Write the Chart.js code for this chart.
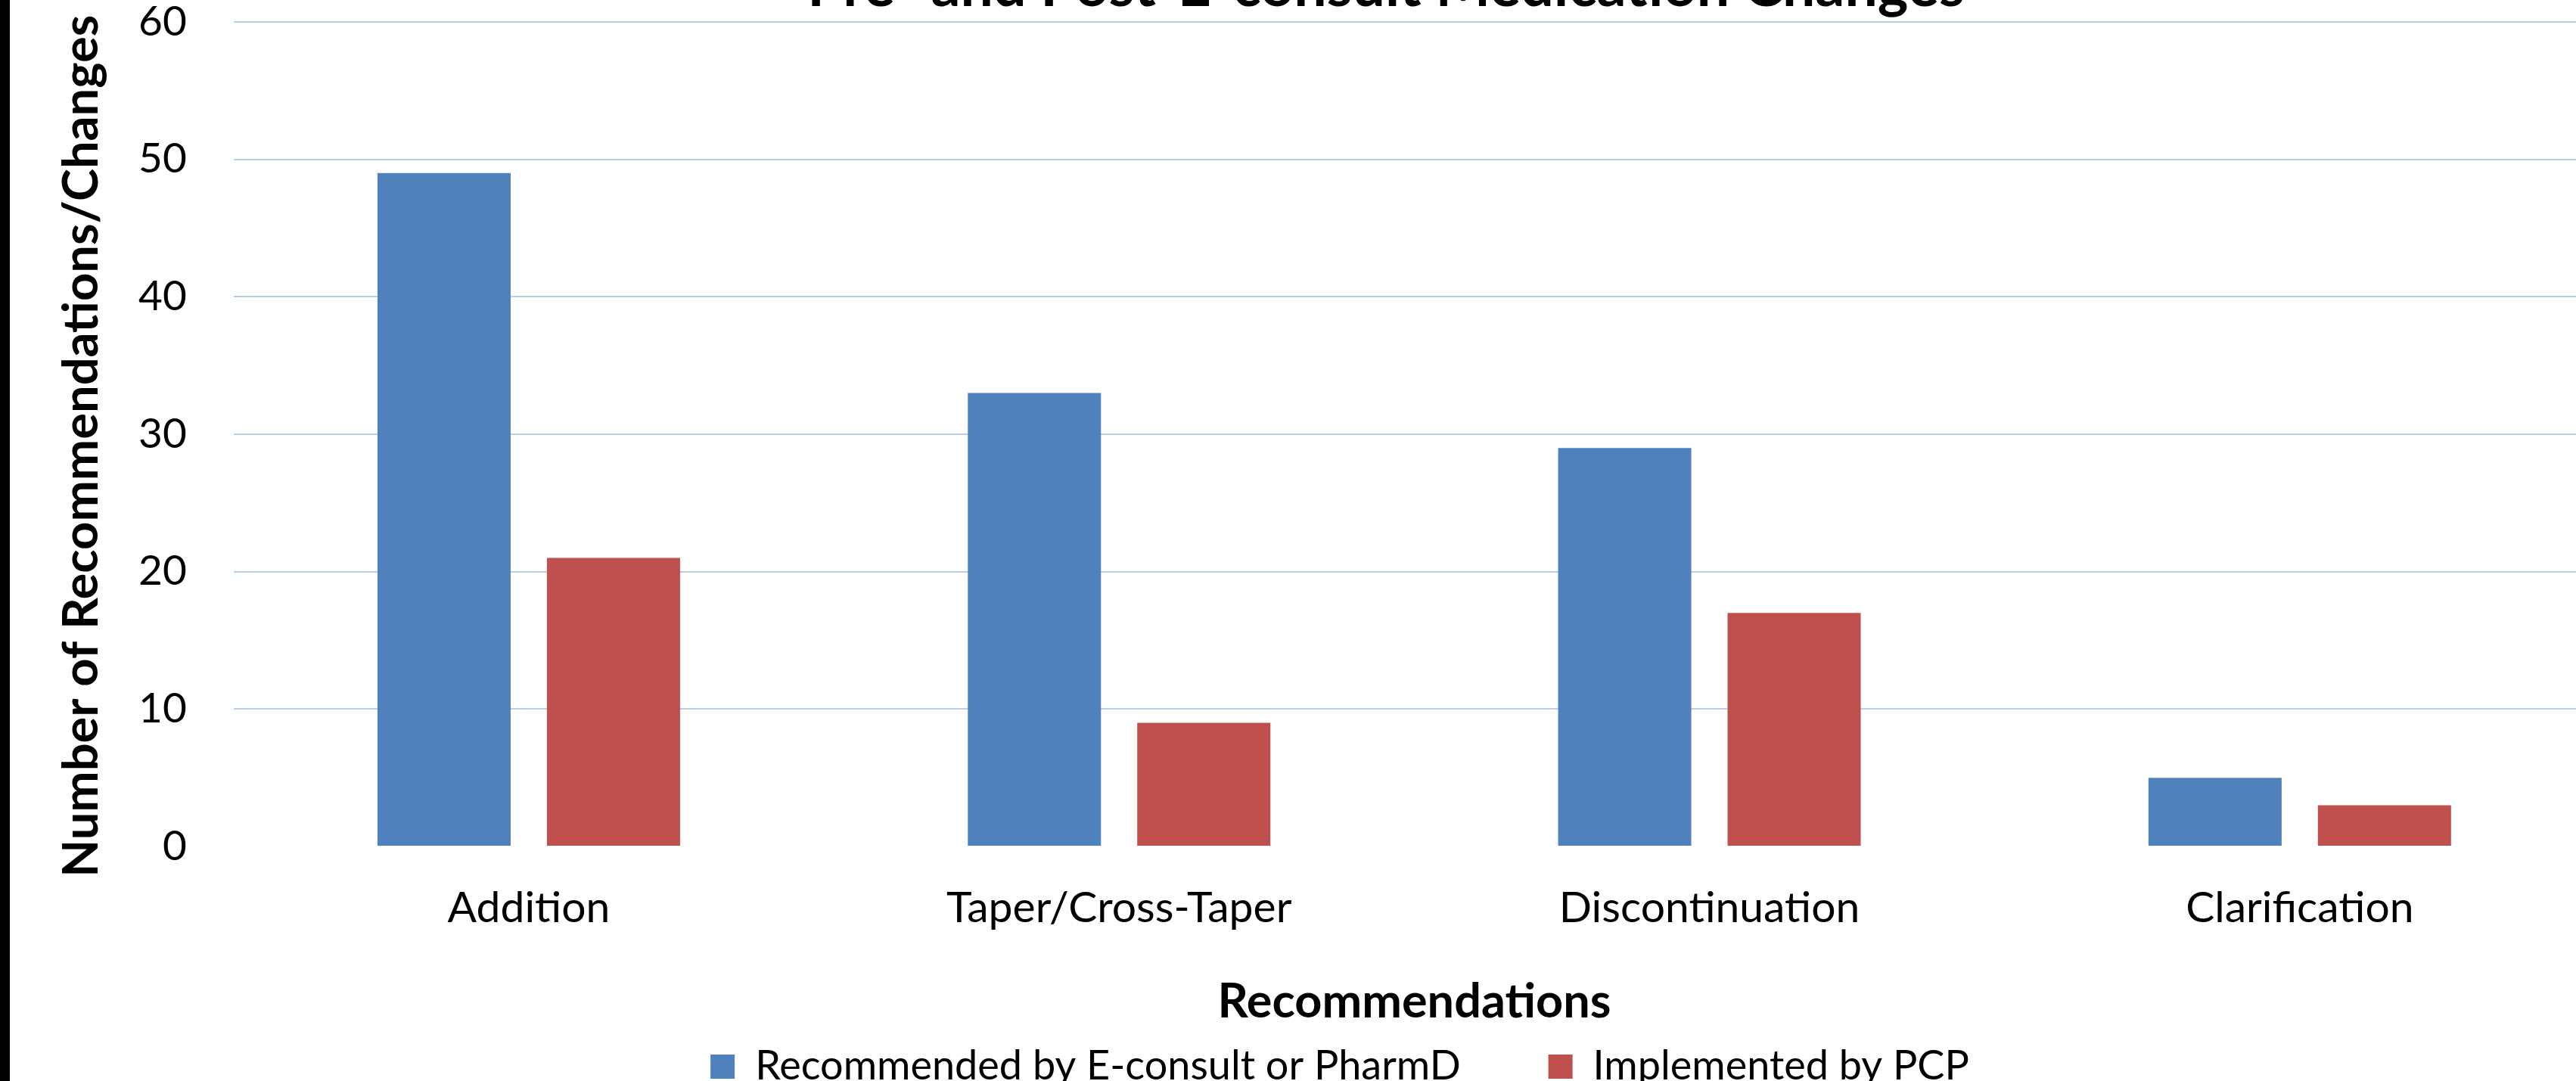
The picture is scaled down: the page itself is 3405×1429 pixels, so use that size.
<!DOCTYPE html>
<html>
<head>
<meta charset="utf-8">
<title>Pre- and Post- Medication Changes</title>
<script src="https://cdn.jsdelivr.net/npm/chart.js@4/dist/chart.umd.min.js"></script>
<style>
  html, body { margin: 0; padding: 0; background: #fff; overflow: hidden; width: 3405px; height: 1429px; }
  #edge { position: absolute; left: 0; top: 0; width: 13px; height: 1429px; background: #000; z-index: 2; }
  #wrap { position: absolute; left: 0; top: -66px; }
</style>
</head>
<body>
<div id="edge"></div>
<div id="wrap"><canvas id="chart" width="3593" height="1526"></canvas></div>
<script>
// chart data
const chartTitle = 'Pre- and Post-E-consult Medication Changes';
const categories = ['Addition', 'Taper/Cross-Taper', 'Discontinuation', 'Clarification'];
const recommended = [49, 33, 29, 5];
const implemented = [21, 9, 17, 3];
const seriesNames = ['Recommended by E-consult or PharmD', 'Implemented by PCP'];
const yTicks = [0, 10, 20, 30, 40, 50, 60];

Chart.defaults.font.family = 'Lato';
Chart.defaults.color = '#000';

// title sits mostly above the visible area, as in the original picture
const cutTitle = {
    id: 'cutTitle',
    afterDraw(chart) {
        const ctx = chart.ctx;
        ctx.save();
        ctx.font = 'bold 77px Lato';
        ctx.fillStyle = '#000';
        ctx.textAlign = 'center';
        ctx.textBaseline = 'alphabetic';
        ctx.fillText(chartTitle, 1832, 74);
        ctx.restore();
    }
};

const ctx = document.getElementById('chart').getContext('2d');
const chart = new Chart(ctx, {
    type: 'bar',
    data: {
        labels: categories,
        datasets: [{
            label: seriesNames[0],
            data: recommended,
            backgroundColor: '#4F81BD',
            borderWidth: 0
        }, {
            label: seriesNames[1],
            data: implemented,
            backgroundColor: '#C0504D',
            borderWidth: 0
        }]
    },
    options: {
        responsive: false,
        animation: false,
        devicePixelRatio: 1,
        categoryPercentage: 0.574,
        barPercentage: 0.786,
        layout: {
            padding: { left: 112, top: 83, right: 163, bottom: 13 }
        },
        plugins: {
            tooltip: { enabled: false },
            title: { display: false },
            legend: {
                position: 'bottom',
                labels: {
                    font: { size: 54 },
                    boxWidth: 32,
                    boxHeight: 32,
                    padding: 21,
                    generateLabels(chart) {
                        const items = Chart.defaults.plugins.legend.labels.generateLabels(chart);
                        items.forEach((it, i) => {
                            it.lineWidth = 0;
                            if (i === 0) it.text = it.text + '\u2003\u2003\u00A0';
                        });
                        return items;
                    }
                }
            }
        },
        scales: {
            x: {
                grid: { display: false },
                border: { display: false },
                ticks: { font: { size: 57 }, padding: 39 },
                title: {
                    display: true,
                    text: 'Recommendations',
                    font: { size: 63, weight: 'bold' },
                    padding: { top: 13, bottom: 0 }
                }
            },
            y: {
                min: 0,
                max: 60,
                afterBuildTicks(scale) {
                    scale.ticks = yTicks.map(v => ({ value: v }));
                },
                grid: {
                    drawTicks: false,
                    lineWidth: 2,
                    color: c => (c.tick && c.tick.value === 0) ? 'rgba(0,0,0,0)' : '#B9CDE5'
                },
                border: { display: false },
                ticks: { font: { size: 55 }, padding: 62 },
                title: {
                    display: true,
                    text: 'Number of Recommendations/Changes\u00A0\u00A0',
                    font: { size: 65, weight: 'bold' },
                    padding: { top: -43, bottom: -26 }
                }
            }
        }
    },
    plugins: [cutTitle]
});
</script>
</body>
</html>
